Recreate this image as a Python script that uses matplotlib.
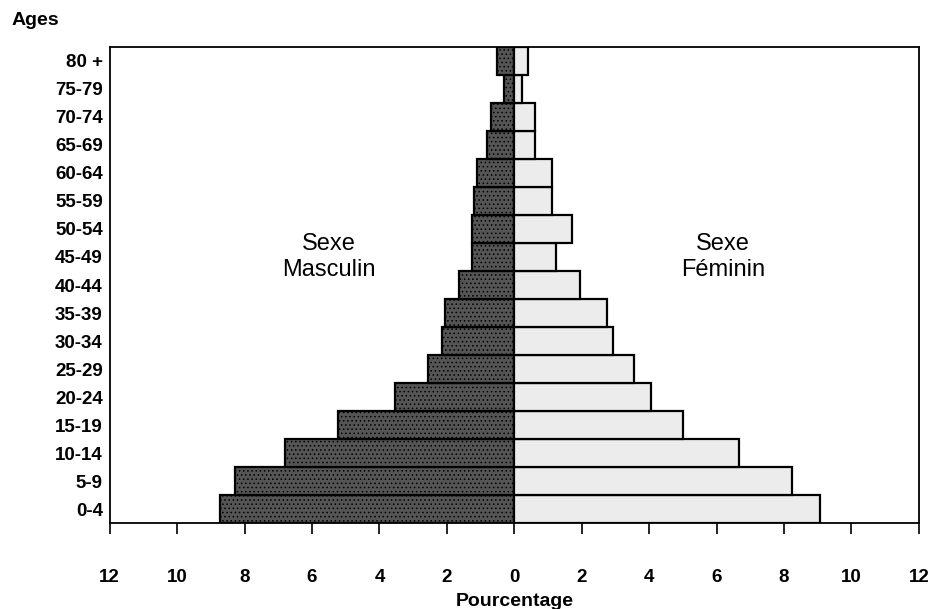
import matplotlib.pyplot as plt
import numpy as np

# age groups, bottom to top
ages = ['0-4', '5-9', '10-14', '15-19', '20-24', '25-29', '30-34', '35-39',
        '40-44', '45-49', '50-54', '55-59', '60-64', '65-69', '70-74',
        '75-79', '80 +']
# percentages
masculin = [8.72, 8.28, 6.80, 5.22, 3.53, 2.55, 2.14, 2.05,
            1.63, 1.25, 1.25, 1.19, 1.10, 0.80, 0.68, 0.30, 0.50]
feminin = [9.08, 8.25, 6.68, 4.99, 4.07, 3.56, 2.94, 2.76,
           1.96, 1.25, 1.72, 1.13, 1.13, 0.62, 0.62, 0.24, 0.42]
xticks = [-12, -10, -8, -6, -4, -2, 0, 2, 4, 6, 8, 10, 12]

plt.rcParams['font.family'] = ['Liberation Sans', 'DejaVu Sans']
plt.rcParams['hatch.linewidth'] = 0.6

fig = plt.figure(figsize=(9.3, 6.09), dpi=100)
ax = fig.add_axes([0.118, 0.141, 0.870, 0.782])

y = np.arange(len(ages))
ax.barh(y, [-v for v in masculin], height=1.0, color='#555555',
        edgecolor='black', linewidth=1.6, hatch='....')
ax.barh(y, feminin, height=1.0, color='#ececec',
        edgecolor='black', linewidth=1.6)

ax.text(-5.5, 9.0, 'Sexe\nMasculin', ha='center', va='center', fontsize=17,
        linespacing=1.2)
ax.text(6.2, 9.0, 'Sexe\nFéminin', ha='center', va='center', fontsize=17,
        linespacing=1.2)

ax.set_xlim(-12, 12)
ax.set_ylim(-0.5, len(ages) - 0.5)
ax.set_xticks(xticks)
ax.set_xticklabels([str(abs(t)) for t in xticks], fontsize=13.5, fontweight='bold')
ax.set_yticks(y)
ax.set_yticklabels(ages, fontsize=13.5, fontweight='bold')
ax.tick_params(axis='y', length=0, pad=5)
ax.tick_params(axis='x', length=8, width=1.2, direction='out', pad=25)
for s in ax.spines.values():
    s.set_linewidth(1.3)

ax.set_xlabel('Pourcentage', fontsize=14, fontweight='bold', labelpad=5)
fig.text(0.012, 0.967, 'Ages', fontsize=14, fontweight='bold', va='center')

plt.savefig('out.png', dpi=100)
plt.close()
